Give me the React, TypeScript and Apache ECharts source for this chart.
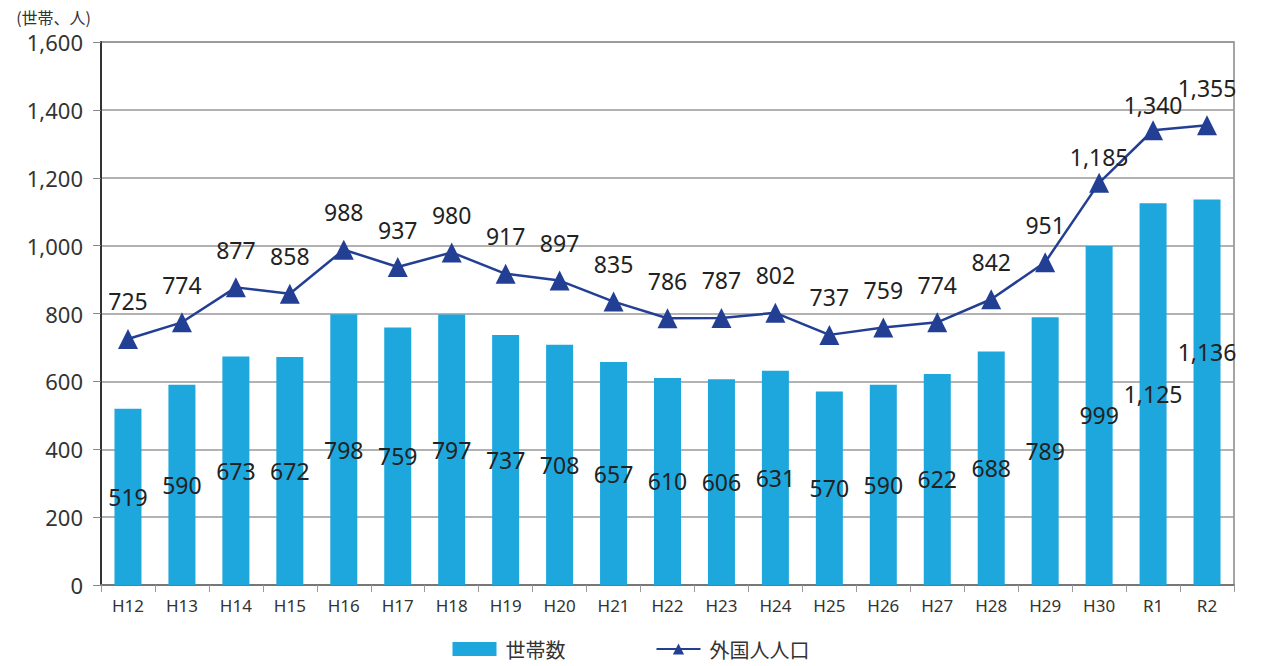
import React, { useEffect, useRef } from "react";
import * as echarts from "echarts";

const categories = ["H12","H13","H14","H15","H16","H17","H18","H19","H20","H21","H22","H23","H24","H25","H26","H27","H28","H29","H30","R1","R2"];
const households = [519,590,673,672,798,759,797,737,708,657,610,606,631,570,590,622,688,789,999,1125,1136];
const population = [725,774,877,858,988,937,980,917,897,835,786,787,802,737,759,774,842,951,1185,1340,1355];
const yTicks = { min: 0, max: 1600, interval: 200 };

const FONT = "'Noto Sans CJK JP', 'Noto Sans', sans-serif";
const NUMFONT = "'Noto Sans', 'Noto Sans CJK JP', sans-serif";

export default function App() {
  const ref = useRef<HTMLDivElement>(null);
  useEffect(() => {
    document.body.style.margin = "0";
    document.body.style.overflow = "hidden";
    const chart = echarts.init(ref.current!, null, { renderer: "svg" });
    const fmt = (v: number) => v.toLocaleString("en-US");
    chart.setOption({
      animation: false,
      textStyle: { fontFamily: FONT },
      grid: { left: 101, right: 28, top: 42, bottom: 81, show: true, borderColor: "#888", borderWidth: 1.5 },
      legend: {
        top: 634,
        left: "center",
        itemGap: 90,
        itemWidth: 44,
        itemHeight: 14,
        textStyle: { fontSize: 20, color: "#333", fontFamily: FONT, padding: [0, 0, 0, 4] },
        data: [
          { name: "世帯数", icon: "rect" },
          { name: "外国人人口" },
        ],
      },
      xAxis: {
        type: "category",
        data: categories,
        axisLine: { lineStyle: { color: "#777", width: 2 } },
        axisTick: { show: true, length: 7, lineStyle: { color: "#999" } },
        axisLabel: { fontSize: 17, color: "#333", margin: 12, fontFamily: NUMFONT },
      },
      yAxis: {
        type: "value",
        min: yTicks.min,
        max: yTicks.max,
        interval: yTicks.interval,
        name: "(世帯、人)",
        nameLocation: "end",
        nameGap: 17,
        nameTextStyle: { fontSize: 16, color: "#333", align: "right", padding: [0, 10, 0, 0] },
        axisLine: { show: true, lineStyle: { color: "#333", width: 2 } },
        axisTick: { show: true, length: 8, lineStyle: { color: "#888" } },
        axisLabel: { fontSize: 22, color: "#333", margin: 18, fontFamily: NUMFONT, formatter: (v: number) => fmt(v) },
        splitLine: { lineStyle: { color: "#999", width: 1.5 } },
      },
      series: [
        {
          name: "世帯数",
          type: "bar",
          barWidth: 27,
          itemStyle: { color: "#1ea7dd" },
          data: households.map((v, i) =>
            i === households.length - 1
              ? { value: v, label: { offset: [0, -40] } }
              : v
          ),
          label: {
            show: true,
            position: "inside",
            fontSize: 23,
            color: "#222",
            fontFamily: NUMFONT,
            formatter: (p: any) => fmt(p.value),
          },
          z: 1,
        },
        {
          name: "外国人人口",
          type: "line",
          data: population.map((v, i) =>
            i === 18 || i === 19 ? { value: v, label: { distance: 4 } } : v
          ),
          symbol: "triangle",
          symbolSize: 20,
          itemStyle: { color: "#233f94" },
          lineStyle: { color: "#233f94", width: 2.5 },
          label: {
            show: true,
            position: "top",
            distance: 16,
            fontSize: 23,
            color: "#222",
            fontFamily: NUMFONT,
            formatter: (p: any) => fmt(p.value),
          },
          z: 3,
        },
      ],
    });
    return () => chart.dispose();
  }, []);
  return <div ref={ref} style={{ width: 1262, height: 666 }} />;
}
